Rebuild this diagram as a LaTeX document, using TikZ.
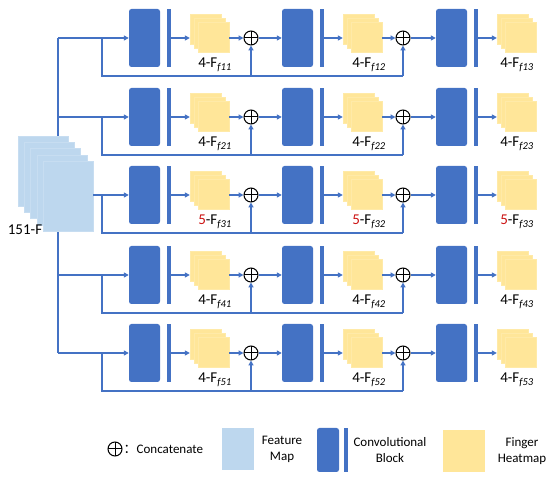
\documentclass[tikz,border=0pt]{standalone}
\usepackage{fontspec}
\setmainfont{Carlito}
\newfontfamily\cjk{Noto Sans CJK SC}
\usetikzlibrary{arrows.meta,positioning}
\definecolor{blk}{RGB}{68,114,196}
\definecolor{fmap}{RGB}{189,215,238}
\definecolor{heat}{RGB}{255,230,153}
\definecolor{five}{RGB}{204,20,20}
\tikzset{
  conv/.style={fill=blk,draw=none,rounded corners=2.5pt,minimum width=31pt,minimum height=58pt,inner sep=0pt},
  bar/.style={fill=blk,draw=none,minimum width=4pt,minimum height=58pt,inner sep=0pt},
  sheet/.style={fill=heat,draw=white!15!heat,line width=0.3pt,minimum width=31pt,minimum height=30pt,inner sep=0pt},
  fsheet/.style={fill=fmap,draw=white!15!fmap,line width=0.3pt,minimum width=50pt,minimum height=70pt,inner sep=0pt},
  wire/.style={draw=blk,line width=1.4pt},
  link/.style={wire,-{Triangle[length=5pt,width=5pt]}},
  cat/.style={circle,draw=black,line width=1pt,minimum size=14pt,inner sep=0pt,
    path picture={\draw[line width=1pt] (path picture bounding box.north) -- (path picture bounding box.south)
      (path picture bounding box.west) -- (path picture bounding box.east);}},
  lab/.style={font=\fontsize{15}{15}\selectfont,inner sep=0pt},
  legtext/.style={font=\fontsize{13}{16}\selectfont,inner sep=0pt,align=center}
}
\begin{document}
\begin{tikzpicture}[x=1pt,y=-1pt]
\useasboundingbox (0,0) rectangle (550,478);
% trunk behind the feature map
\foreach \r/\yy in {1/38,2/117,3/195,4/275,5/353}
  \coordinate (tr\r) at (58,\yy);
\draw[wire] (tr1) -- (tr5);
\foreach \k in {0,...,4}
  \node[fsheet] (fm\k) at (43+6.25*\k,171+6.25*\k) {};
\node[lab,anchor=base] (fmlab) at (25,235) {151-F};

\foreach \r/\yy/\n/\nc in {1/38/4/black,2/117/4/black,3/195/5/five,4/275/4/black,5/353/4/black}{
  \foreach \c/\xx/\dx in {1/129/25,2/282/26,3/436/20}{
    \node[conv] (cv\r\c) at (\xx+15.5,\yy) {};
    \node[bar] (br\r\c) at (\xx+40,\yy) {};
    \foreach \k in {0,1,2}
      \node[sheet] (h\r\c-\k) at (\xx+61+15.5+4*\k,\yy-9+4*\k) {};
    \node[lab,anchor=base] (lb\r\c) at (\xx+61+\dx,\yy+30) {\textcolor{\nc}{\n}-F\textsubscript{\itshape f\r\c}};
    \draw[link] (br\r\c.east) -- (br\r\c.east -| h\r\c-0.west);
  }
  \node[cat] (cat\r1) at (251,\yy) {};
  \node[cat] (cat\r2) at (403,\yy) {};
  % into the first block
  \ifnum\r=3
    \draw[link] (fm4.east |- cv\r1) -- (cv\r1.west);
  \else
    \draw[link] (tr\r) -- (cv\r1.west);
  \fi
  \draw[link] (h\r1-2.east |- cat\r1) -- (cat\r1.west);
  \draw[link] (cat\r1.east) -- (cv\r2.west);
  \draw[link] (h\r2-2.east |- cat\r2) -- (cat\r2.west);
  \draw[link] (cat\r2.east) -- (cv\r3.west);
  % skip connection
  \coordinate (sp\r) at (102,\yy);
  \coordinate (lp\r) at (102,\yy+38);
  \draw[wire] (sp\r) -- (lp\r) -- (lp\r -| cat\r2);
  \draw[link] (lp\r -| cat\r1) -- (cat\r1.south);
  \draw[link] (lp\r -| cat\r2) -- (cat\r2.south);
}

% legend
\node[cat] (lgcat) at (115,449) {};
\node[legtext,anchor=west] (lgcattx) at ([xshift=1pt]lgcat.east) {{\cjk ：}Concatenate};
\node[fsheet,draw=none,minimum width=32pt,minimum height=42pt] (lgfm) at (238,449) {};
\node[legtext] (lgfmtx) at (282,449) {Feature\\Map};
\node[conv,minimum width=22pt,minimum height=44pt] (lgcv) at (328,450) {};
\node[bar,minimum height=44pt] (lgbr) at (346,450) {};
\node[legtext] (lgcvtx) at (390,450) {Convolutional\\Block};
\node[sheet,draw=none,minimum width=42pt,minimum height=42pt] (lghm) at (464,451) {};
\node[legtext] (lghmtx) at (522,451) {Finger\\Heatmap};
\end{tikzpicture}
\end{document}
